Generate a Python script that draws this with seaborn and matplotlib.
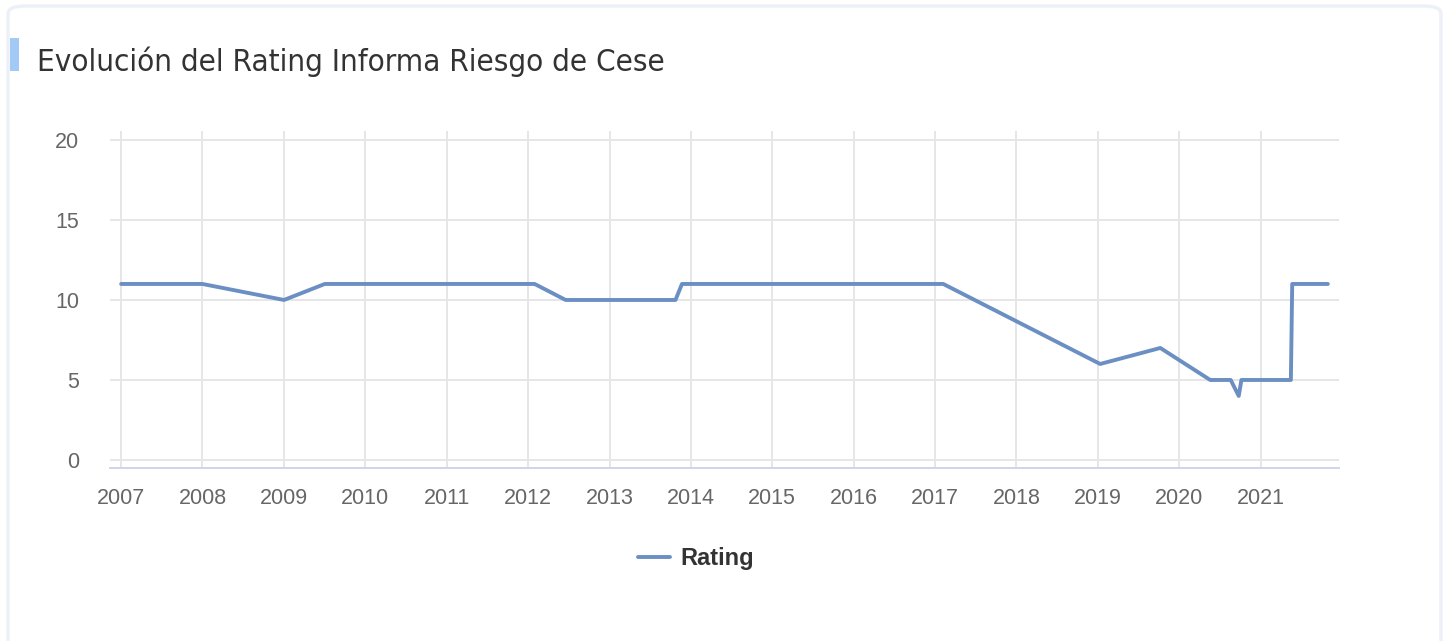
import pandas as pd
import seaborn as sns
import matplotlib.pyplot as plt
import matplotlib.dates as mdates
from matplotlib.patches import Rectangle, FancyBboxPatch

# rating history (dates)
dates = ["2007-01-01", "2008-01-01", "2009-01-01", "2009-07-03", "2012-01-31",
         "2012-06-18", "2013-10-24", "2013-11-22", "2017-02-07", "2019-01-12",
         "2019-10-09", "2020-05-20", "2020-08-20", "2020-09-25", "2020-10-07",
         "2021-05-17", "2021-05-23", "2021-10-30"]
rating = [11, 11, 10, 11, 11, 10, 10, 11, 11, 6, 7, 5, 5, 4, 5, 5, 11, 11]
years = list(range(2007, 2022))
y_ticks = [0, 5, 10, 15, 20]
title = "Evolución del Rating Informa Riesgo de Cese"

df = pd.DataFrame({"fecha": pd.to_datetime(dates), "Rating": rating})

sns.set_style("white")
plt.rcParams["font.family"] = ["Liberation Sans", "DejaVu Sans"]

W, H = 1443, 641
fig = plt.figure(figsize=(W / 100, H / 100), dpi=100)

# card frame + accent bar
card = FancyBboxPatch((8 / W, -0.05), 1433 / W, 1.05 - 6 / H,
                      boxstyle="round,pad=0,rounding_size=0.012",
                      transform=fig.transFigure, facecolor="white",
                      edgecolor="#edf1f7", linewidth=2.5, zorder=0)
fig.patches.append(card)
fig.patches.append(Rectangle((10 / W, 1 - 71 / H), 9 / W, 33 / H,
                             transform=fig.transFigure, facecolor="#a3c9f7",
                             edgecolor="none", zorder=0.5))
fig.text(37 / W, 1 - 62 / H, title, fontsize=22.5, color="#333333",
         va="center", ha="left", family="DejaVu Sans", fontstretch="condensed",
         fontweight="light")

ax = fig.add_axes([110 / W, 1 - 467.5 / H, 1229 / W, 336.5 / H])
ax.set_zorder(2)
ax.patch.set_alpha(0)

line_color = "#6b8fc3"
sns.lineplot(data=df, x="fecha", y="Rating", ax=ax, color=line_color,
             linewidth=2.8, label="Rating")

ax.set_xlim(pd.Timestamp("2006-11-12"), pd.Timestamp("2021-12-19"))
ax.set_ylim(-0.47, 20.56)
ax.set_yticks(y_ticks)
ax.set_xticks([pd.Timestamp(f"{y}-01-01") for y in years])
ax.xaxis.set_major_formatter(mdates.DateFormatter("%Y"))
ax.grid(True, color="#e6e6e6", linewidth=1.4)
ax.set_axisbelow(True)
for s in ["top", "right", "left"]:
    ax.spines[s].set_visible(False)
ax.spines["bottom"].set_color("#ccd6eb")
ax.spines["bottom"].set_linewidth(1.4)
ax.tick_params(axis="x", length=13.5, width=1.4, color="#ccd6eb",
               labelsize=15.5, labelcolor="#666666", pad=1.5)
ax.tick_params(axis="y", length=0, labelsize=15.5, labelcolor="#666666",
               pad=22)
ax.set_xlabel("")
ax.set_ylabel("")

handles, labels = ax.get_legend_handles_labels()
ax.get_legend().remove()
leg = fig.legend(handles, labels, loc="center",
                 bbox_to_anchor=(696 / W, 1 - 559 / H),
                 frameon=False, handlelength=1.35, handletextpad=0.45,
                 prop={"size": 17, "weight": "bold"}, labelcolor="#333333")
leg.set_zorder(3)

fig.savefig("out.png", dpi=100, facecolor="white")
